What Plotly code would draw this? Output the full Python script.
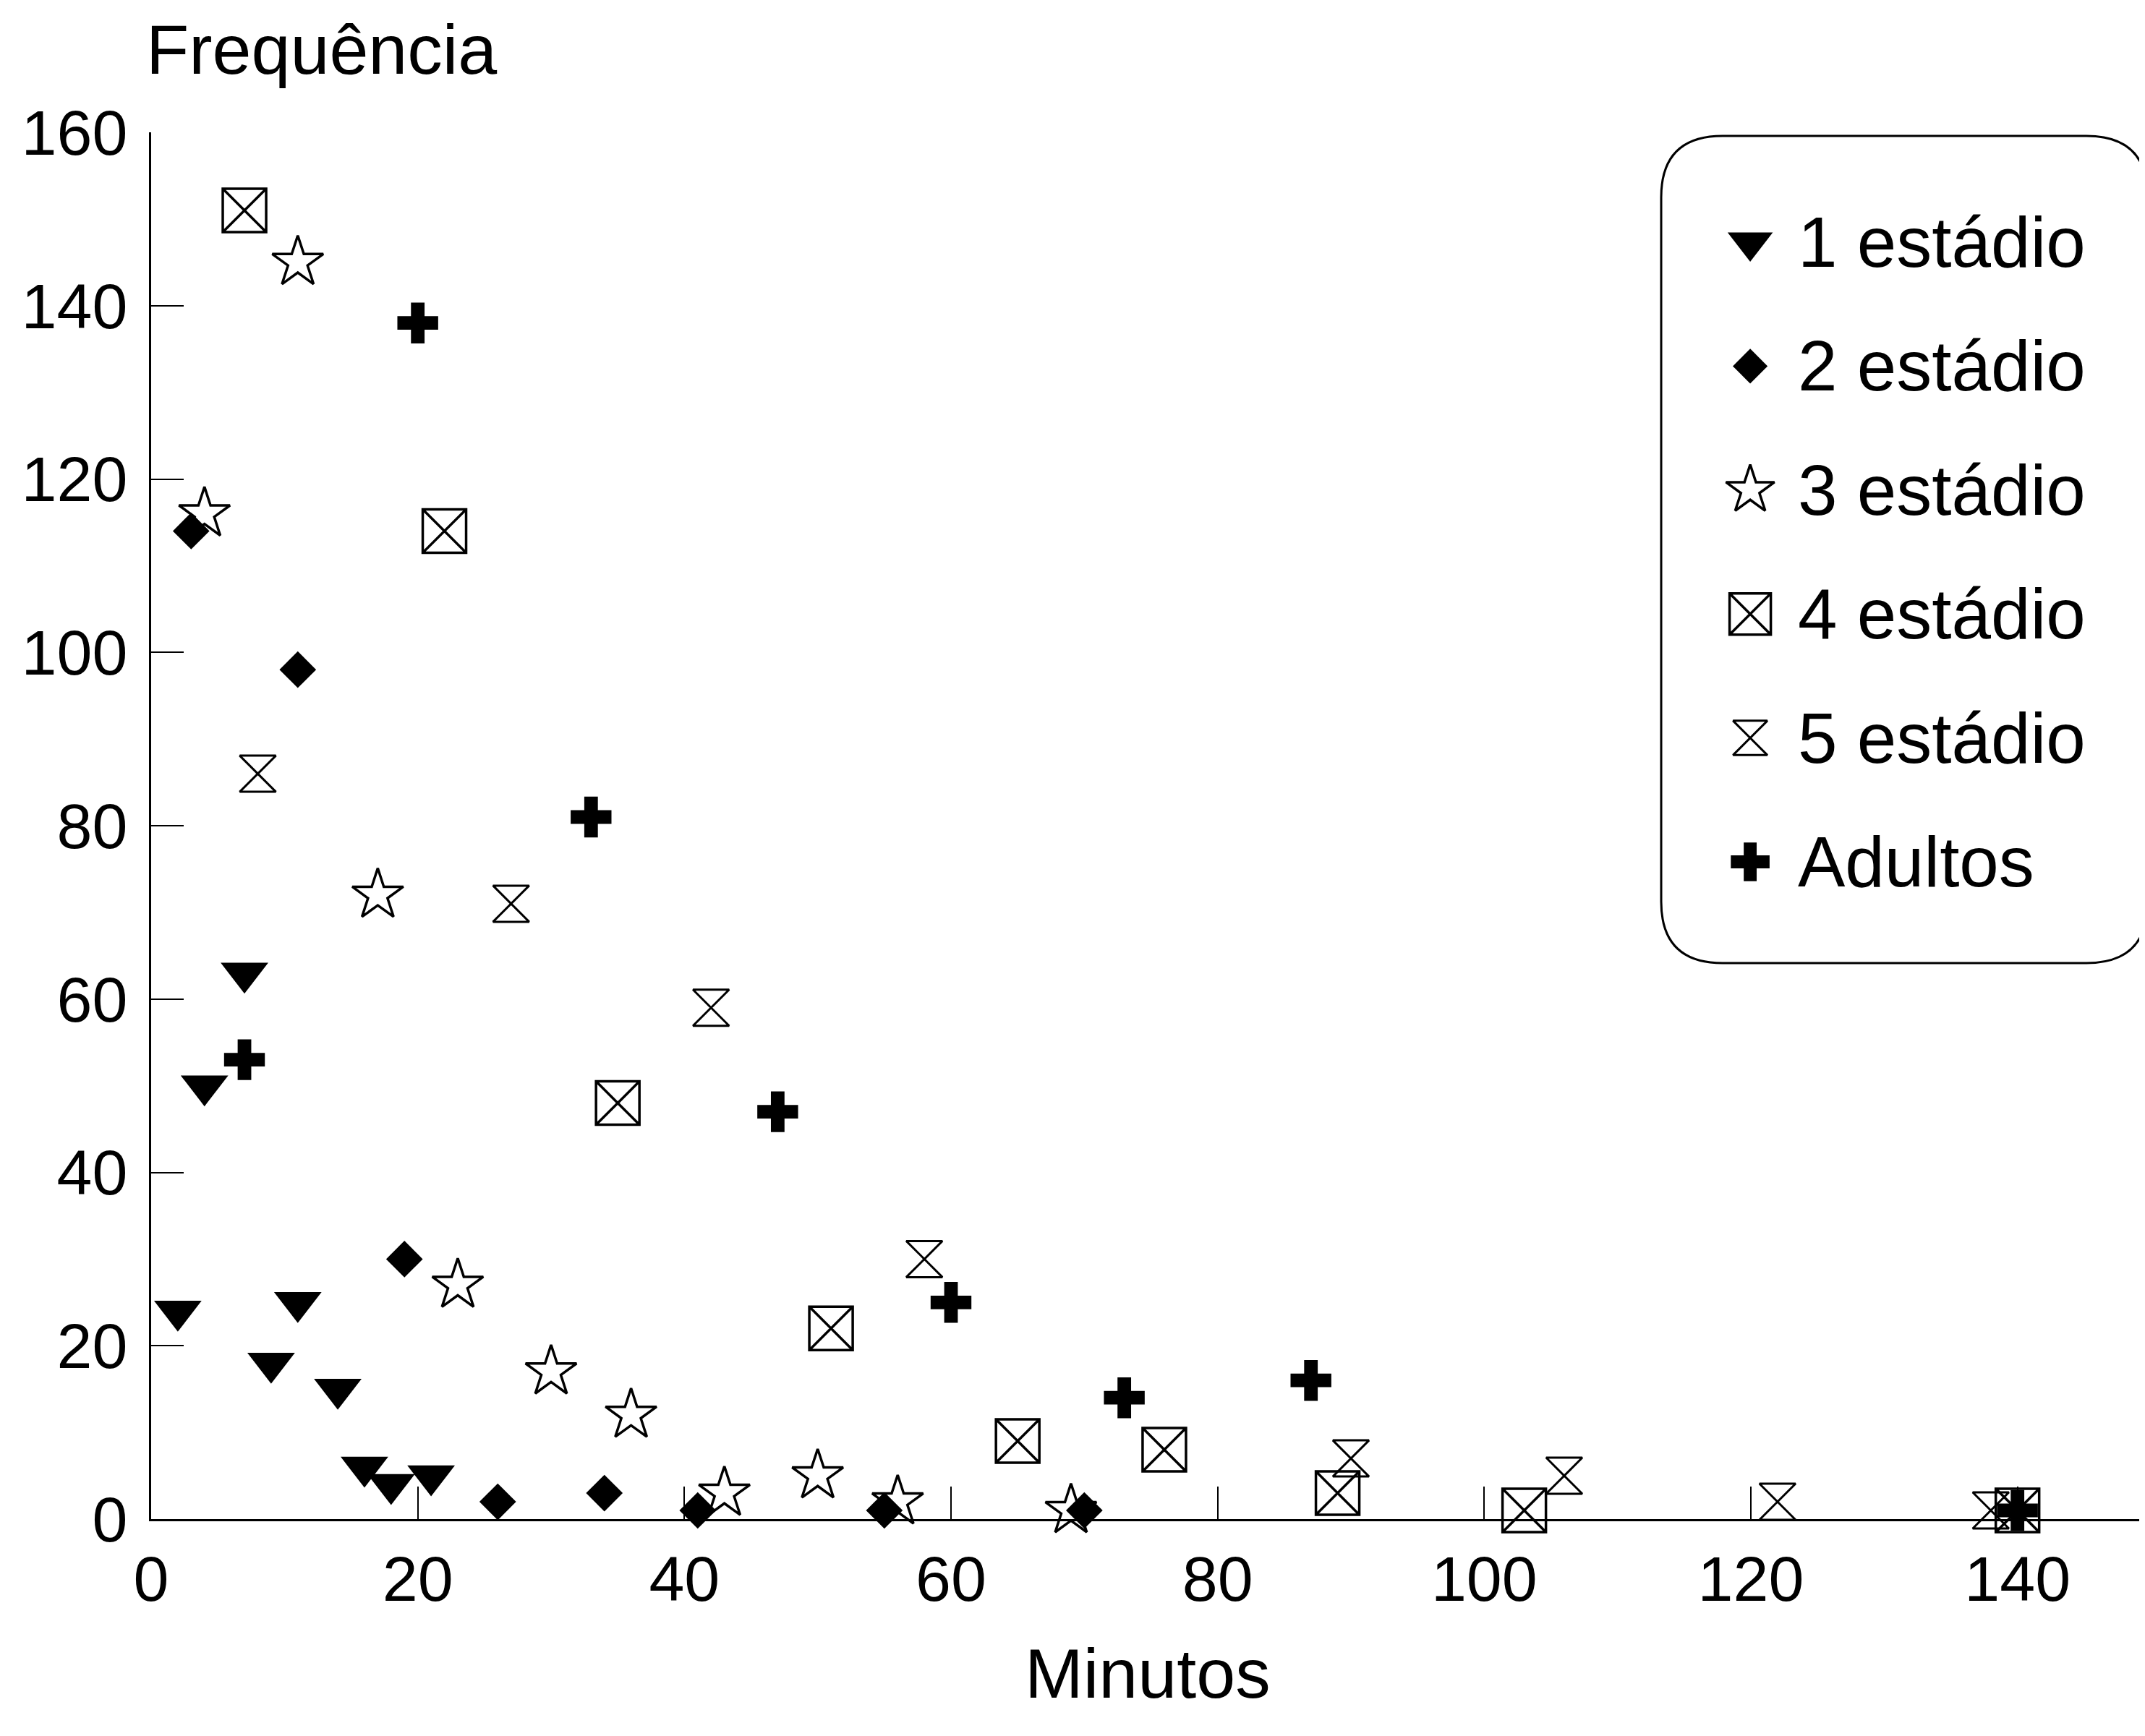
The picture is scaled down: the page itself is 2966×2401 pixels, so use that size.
import plotly.graph_objects as go

# ---------------- data ----------------
series_names = ["1 estádio", "2 estádio", "3 estádio", "4 estádio", "5 estádio", "Adultos"]

x1 = [2, 4, 7, 9, 11, 14, 16, 18, 21]
y1 = [24, 50, 63, 18, 25, 15, 6, 4, 5]

x2 = [3, 11, 19, 26, 34, 41, 55, 70]
y2 = [114, 98, 30, 2, 3, 1, 1, 1]

x3 = [4, 11, 17, 23, 30, 36, 43, 50, 56, 69]
y3 = [116, 145, 72, 27, 17, 12, 3, 5, 2, 1]

x4 = [7, 22, 35, 51, 65, 76, 89, 103, 140]
y4 = [151, 114, 48, 22, 9, 8, 3, 1, 1]

x5 = [8, 27, 42, 58, 90, 106, 122, 138]
y5 = [86, 71, 59, 30, 7, 5, 2, 1]

x6 = [7, 20, 33, 47, 60, 73, 87, 140]
y6 = [53, 138, 81, 47, 25, 14, 16, 1]

x_ticks = [0, 20, 40, 60, 80, 100, 120, 140]
y_ticks = [0, 20, 40, 60, 80, 100, 120, 140, 160]

x_title = "Minutos"
y_title = "Frequência"

# ---------------- styles ----------------
symbols = ["triangle-down", "diamond", "star-open", "square-x-open", "hourglass-open", "cross"]
sizes = [57, 39, 53, 60, 50, 47]
line_w = [0, 0, 3.5, 3.5, 3, 0]
FONT = "Liberation Sans, Arial, sans-serif"

W, H = 2966, 2401
ML, MR, MT, MB = 201, 0, 175, 308
PW, PH = W - ML - MR, H - MT - MB


def px_x(px):
    return (px - ML) / PW


def px_y(py):
    return (H - MB - py) / PH


fig = go.Figure()

all_x = [x1, x2, x3, x4, x5, x6]
all_y = [y1, y2, y3, y4, y5, y6]
for name, xs, ys, sym, sz, lw in zip(series_names, all_x, all_y, symbols, sizes, line_w):
    fig.add_trace(go.Scatter(
        x=xs, y=ys, mode="markers", name=name, showlegend=False,
        cliponaxis=False,
        marker=dict(symbol=sym, size=sz, color="black", opacity=1,
                    line=dict(color="black", width=lw)),
    ))

# legend keys drawn on a small auxiliary axis pair (one row per series)
for i, (name, sym, sz, lw) in enumerate(zip(series_names, symbols, sizes, line_w)):
    fig.add_trace(go.Scatter(
        x=[0], y=[i], xaxis="x2", yaxis="y2", name=name,
        mode="markers", showlegend=False, cliponaxis=False,
        marker=dict(symbol=sym, size=sz * 0.95, color="black", opacity=1,
                    line=dict(color="black", width=lw)),
    ))

annotations = []
for i, name in enumerate(series_names):
    annotations.append(dict(
        x=0.52, y=i, xref="x2", yref="y2", text=name, showarrow=False,
        xanchor="left", yanchor="middle",
        font=dict(family=FONT, size=98, color="black"),
    ))

annotations.append(dict(
    x=px_x(1579), y=px_y(2306), xref="paper", yref="paper", text=x_title,
    showarrow=False, xanchor="center", yanchor="middle",
    font=dict(family=FONT, size=97, color="black"),
))
annotations.append(dict(
    x=px_x(192), y=px_y(4), xref="paper", yref="paper", text=y_title,
    showarrow=False, xanchor="left", yanchor="top",
    font=dict(family=FONT, size=97, color="black"),
))

# rounded legend frame
L, R, T, B = px_x(2289), px_x(2962), px_y(180), px_y(1324)
rx, ry = 85 / PW, 85 / PH
path = (f"M {L+rx},{T} L {R-rx},{T} Q {R},{T} {R},{T-ry} "
        f"L {R},{B+ry} Q {R},{B} {R-rx},{B} "
        f"L {L+rx},{B} Q {L},{B} {L},{B+ry} "
        f"L {L},{T-ry} Q {L},{T} {L+rx},{T} Z")

fig.update_layout(
    width=W, height=H,
    margin=dict(l=ML, r=MR, t=MT, b=MB, pad=0),
    paper_bgcolor="white", plot_bgcolor="white",
    font=dict(family=FONT, color="black"),
    showlegend=False,
    xaxis=dict(
        range=[0, 150], tickvals=x_ticks, ticktext=[str(v) for v in x_ticks],
        ticks="inside", ticklen=45, tickwidth=2, tickcolor="black",
        showline=True, linewidth=3, linecolor="black",
        showgrid=False, zeroline=False,
        tickfont=dict(family=FONT, size=88, color="black"),
        ticklabelstandoff=4,
    ),
    yaxis=dict(
        range=[0, 160], tickvals=y_ticks, ticktext=[str(v) for v in y_ticks],
        ticks="inside", ticklen=45, tickwidth=2, tickcolor="black",
        showline=True, linewidth=3, linecolor="black",
        showgrid=False, zeroline=False,
        tickfont=dict(family=FONT, size=88, color="black"),
        ticklabelstandoff=12,
    ),
    xaxis2=dict(domain=[px_x(2289), 1], range=[-1, 4.5], visible=False,
                anchor="y2", fixedrange=True),
    yaxis2=dict(domain=[px_y(1184 + 85.7), px_y(327 - 85.7)], range=[5.5, -0.5],
                visible=False, anchor="x2", fixedrange=True),
    shapes=[dict(type="path", path=path, xref="paper", yref="paper",
                 line=dict(color="black", width=3), fillcolor="rgba(0,0,0,0)")],
    annotations=annotations,
)

fig.write_html("out.html")
